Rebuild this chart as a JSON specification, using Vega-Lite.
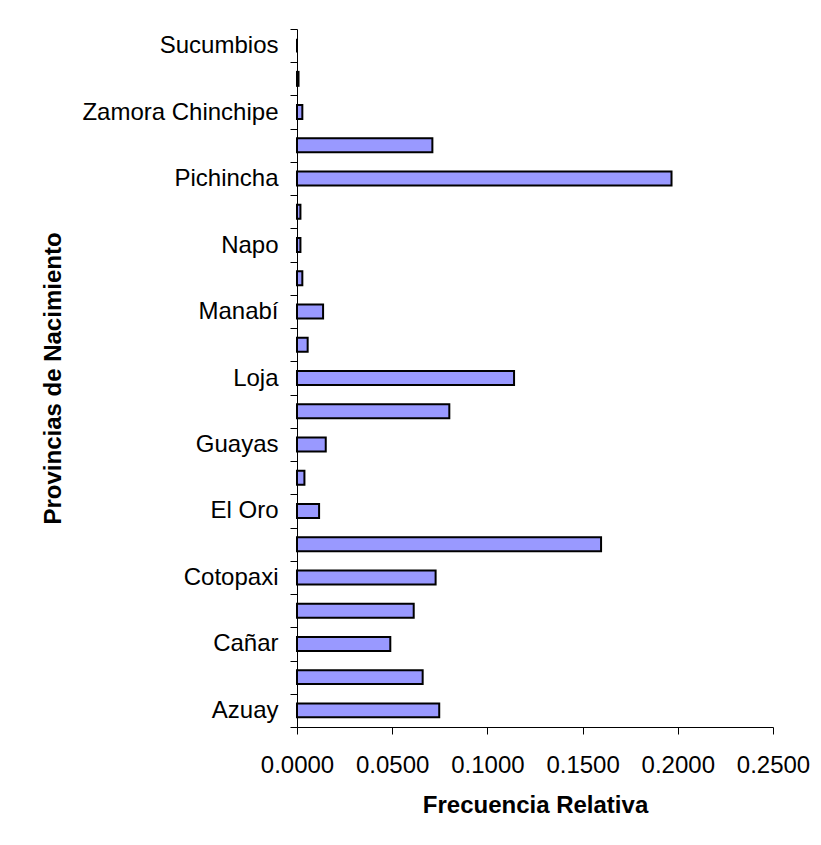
{
  "$schema": "https://vega.github.io/schema/vega-lite/v6.json",
  "autosize": {"type": "none"},
  "width": 476,
  "height": 698,
  "padding": {"left": 297, "top": 29, "right": 48, "bottom": 118},
  "background": "white",
  "config": {
    "view": {"stroke": null},
    "font": "Liberation Sans",
    "axis": {
      "labelFont": "Liberation Sans",
      "titleFont": "Liberation Sans",
      "labelColor": "black",
      "titleColor": "black",
      "domainColor": "black",
      "tickColor": "black",
      "grid": false
    }
  },
  "data": {
    "values": [
      {"provincia": "Azuay", "frecuencia": 0.0747},
      {"provincia": "Bolívar", "frecuencia": 0.0660},
      {"provincia": "Cañar", "frecuencia": 0.0490},
      {"provincia": "Carchi", "frecuencia": 0.0613},
      {"provincia": "Cotopaxi", "frecuencia": 0.0728},
      {"provincia": "Chimborazo", "frecuencia": 0.1597},
      {"provincia": "El Oro", "frecuencia": 0.0116},
      {"provincia": "Esmeraldas", "frecuencia": 0.0039},
      {"provincia": "Guayas", "frecuencia": 0.0151},
      {"provincia": "Imbabura", "frecuencia": 0.0800},
      {"provincia": "Loja", "frecuencia": 0.1140},
      {"provincia": "Los Ríos", "frecuencia": 0.0056},
      {"provincia": "Manabí", "frecuencia": 0.0137},
      {"provincia": "Morona Santiago", "frecuencia": 0.0028},
      {"provincia": "Napo", "frecuencia": 0.0018},
      {"provincia": "Pastaza", "frecuencia": 0.0018},
      {"provincia": "Pichincha", "frecuencia": 0.1967},
      {"provincia": "Tungurahua", "frecuencia": 0.0711},
      {"provincia": "Zamora Chinchipe", "frecuencia": 0.0028},
      {"provincia": "Galápagos", "frecuencia": 0.0008},
      {"provincia": "Sucumbios", "frecuencia": 0.0}
    ]
  },
  "mark": {"type": "bar", "fill": "#9999FF", "stroke": "black", "strokeWidth": 2, "height": {"band": 0.42}},
  "encoding": {
    "y": {
      "field": "provincia",
      "type": "nominal",
      "sort": ["Sucumbios", "Galápagos", "Zamora Chinchipe", "Tungurahua", "Pichincha", "Pastaza", "Napo", "Morona Santiago", "Manabí", "Los Ríos", "Loja", "Imbabura", "Guayas", "Esmeraldas", "El Oro", "Chimborazo", "Cotopaxi", "Carchi", "Cañar", "Bolívar", "Azuay"],
      "scale": {"paddingInner": 0, "paddingOuter": 0},
      "axis": {
        "title": "Provincias de Nacimiento",
        "titleFontSize": 24,
        "titleFontWeight": "bold",
        "titlePadding": 32,
        "labelFontSize": 24,
        "labelFontWeight": "normal",
        "labelPadding": 12,
        "labelLimit": 400,
        "labelOverlap": false,
        "tickSize": 7,
        "tickBand": "extent",
        "labelExpr": "indexof(['Azuay','Cañar','Cotopaxi','El Oro','Guayas','Loja','Manabí','Napo','Pichincha','Zamora Chinchipe','Sucumbios'], datum.value) >= 0 ? datum.label : ''"
      }
    },
    "x": {
      "field": "frecuencia",
      "type": "quantitative",
      "scale": {"domain": [0, 0.25], "nice": false, "zero": true},
      "axis": {
        "title": "Frecuencia Relativa",
        "titleFontSize": 24,
        "titleFontWeight": "bold",
        "titlePadding": 16,
        "values": [0, 0.05, 0.1, 0.15, 0.2, 0.25],
        "format": ".4f",
        "labelFontSize": 24,
        "labelPadding": 19,
        "labelOverlap": false,
        "labelFlush": false,
        "tickSize": 7
      }
    }
  }
}
